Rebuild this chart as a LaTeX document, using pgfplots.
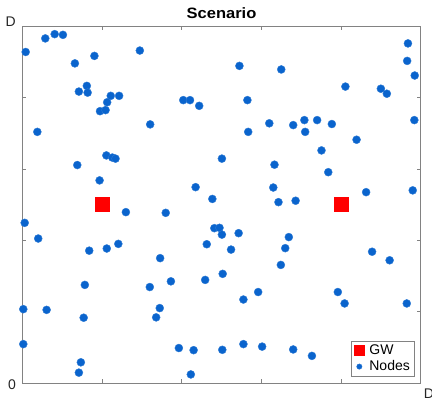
\documentclass[border=0pt]{standalone}
\usepackage{pgfplots}
\pgfplotsset{compat=1.18}
\usepackage{fontspec}
\setmainfont{Liberation Sans}
\newfontfamily\titlefont{Liberation Sans}[FakeStretch=1.1]
\usetikzlibrary{calc}
\definecolor{nodeblue}{RGB}{10,100,205}
\definecolor{axgray}{RGB}{130,130,130}
\definecolor{txtgray}{RGB}{38,38,38}
\pgfplotstableread{
x y
0.85 92.8
5.77 96.6
8.13 97.8
10.2 97.6
13.2 89.6
18.1 91.7
29.5 93.2
16.2 83.3
14.2 81.7
16.4 81.4
22.2 80.5
24.3 80.5
21.3 78.7
19.5 76.2
20.9 76.5
40.4 79.3
42.1 79.3
44.4 77.7
3.77 70.4
32.1 72.5
21.1 63.8
22.6 63.2
23.4 62.9
13.8 61.1
19.4 56.8
43.5 54.9
47.7 51.6
50.1 62.9
96.8 95.2
96.6 90.3
98.5 86.2
54.5 88.9
65.0 87.9
81.1 83.1
90.0 82.5
91.5 81.1
56.5 79.3
98.4 73.7
62.0 72.8
68.0 72.3
70.8 73.7
74.0 73.7
77.7 72.6
56.7 70.4
71.0 70.4
83.9 68.2
75.1 65.2
63.3 61.2
76.8 59.1
63.0 54.8
86.3 53.5
98.0 54.0
64.3 50.7
68.6 51.1
26.0 47.9
36.0 47.7
0.6 44.9
4.0 40.5
48.2 43.4
49.5 43.5
50.1 41.6
24.1 39.0
21.2 37.7
16.8 37.1
46.3 38.9
34.6 35.0
15.7 27.5
32.0 26.9
37.3 28.5
45.9 28.9
0.25 20.7
6.1 20.5
34.5 21.0
15.4 18.3
33.6 18.4
0.25 10.9
39.3 9.8
43.0 9.2
14.7 5.8
14.2 2.9
42.3 2.4
50.2 9.3
54.3 42.0
66.9 40.9
52.4 37.4
66.0 37.8
64.9 33.1
50.3 30.6
87.8 36.8
92.2 34.4
59.2 25.5
55.5 23.4
79.2 25.5
80.9 22.3
96.5 22.3
55.5 10.9
60.2 10.2
68.0 9.4
72.7 7.6
}\nodestable
\pgfplotstableread{
x y
20 50
80 50
}\gwtable
\begin{document}
\begin{tikzpicture}
\begin{axis}[
  scale only axis,
  width=398.4pt, height=356.7pt,
  xmin=0, xmax=100, ymin=0, ymax=100,
  xtick={20,40,60,80}, ytick={20,40,60,80},
  xticklabels={}, yticklabels={},
  major tick length=4pt,
  tick style={axgray, line width=0.5pt},
  axis line style={axgray, line width=0.6pt},
  title={\titlefont\bfseries Scenario},
  title style={font=\fontsize{15}{17}\selectfont, text=black, at={(0.5,1)}, anchor=base, yshift=2pt},
  legend style={font=\fontsize{14}{16}\selectfont, draw=axgray, line width=0.6pt,
    at={(0.9835,0.0176)}, anchor=south east, inner xsep=3pt, inner ysep=3pt, row sep=2.5pt,
    column sep=4pt, nodes={inner sep=1pt}},
  legend cell align=left,
  clip=false,
]
\addplot[only marks, mark=square*, mark size=7pt, color=red, mark options={draw=red, fill=red},
  legend image post style={mark size=5pt}] table {\gwtable};
\addlegendentry{GW}
\addplot[only marks, mark=*, mark size=4pt, color=nodeblue, mark options={draw=nodeblue!85!white, fill=nodeblue, line width=0.4pt},
  legend image post style={mark size=2.7pt}] table {\nodestable};
\addlegendentry{Nodes}
\coordinate (bl) at (rel axis cs:0,0);
\coordinate (tr) at (rel axis cs:1,1);
\end{axis}
\node[txtgray, font=\fontsize{14}{16}\selectfont, anchor=east, inner sep=2pt] at ($(bl)+(-4.3pt,-1.5pt)$) {0};
\node[txtgray, font=\fontsize{14}{16}\selectfont, anchor=east, inner sep=2pt] at ($(bl|-tr)+(-4.3pt,5pt)$) {D};
\node[txtgray, font=\fontsize{14}{16}\selectfont, anchor=west, inner sep=2pt] at ($(tr|-bl)+(1pt,-11pt)$) {D};
\pgfresetboundingbox
\path[use as bounding box] ($(bl)+(-22.3pt,-20pt)$) rectangle ($(tr)+(11.3pt,26.3pt)$);
\end{tikzpicture}
\end{document}
